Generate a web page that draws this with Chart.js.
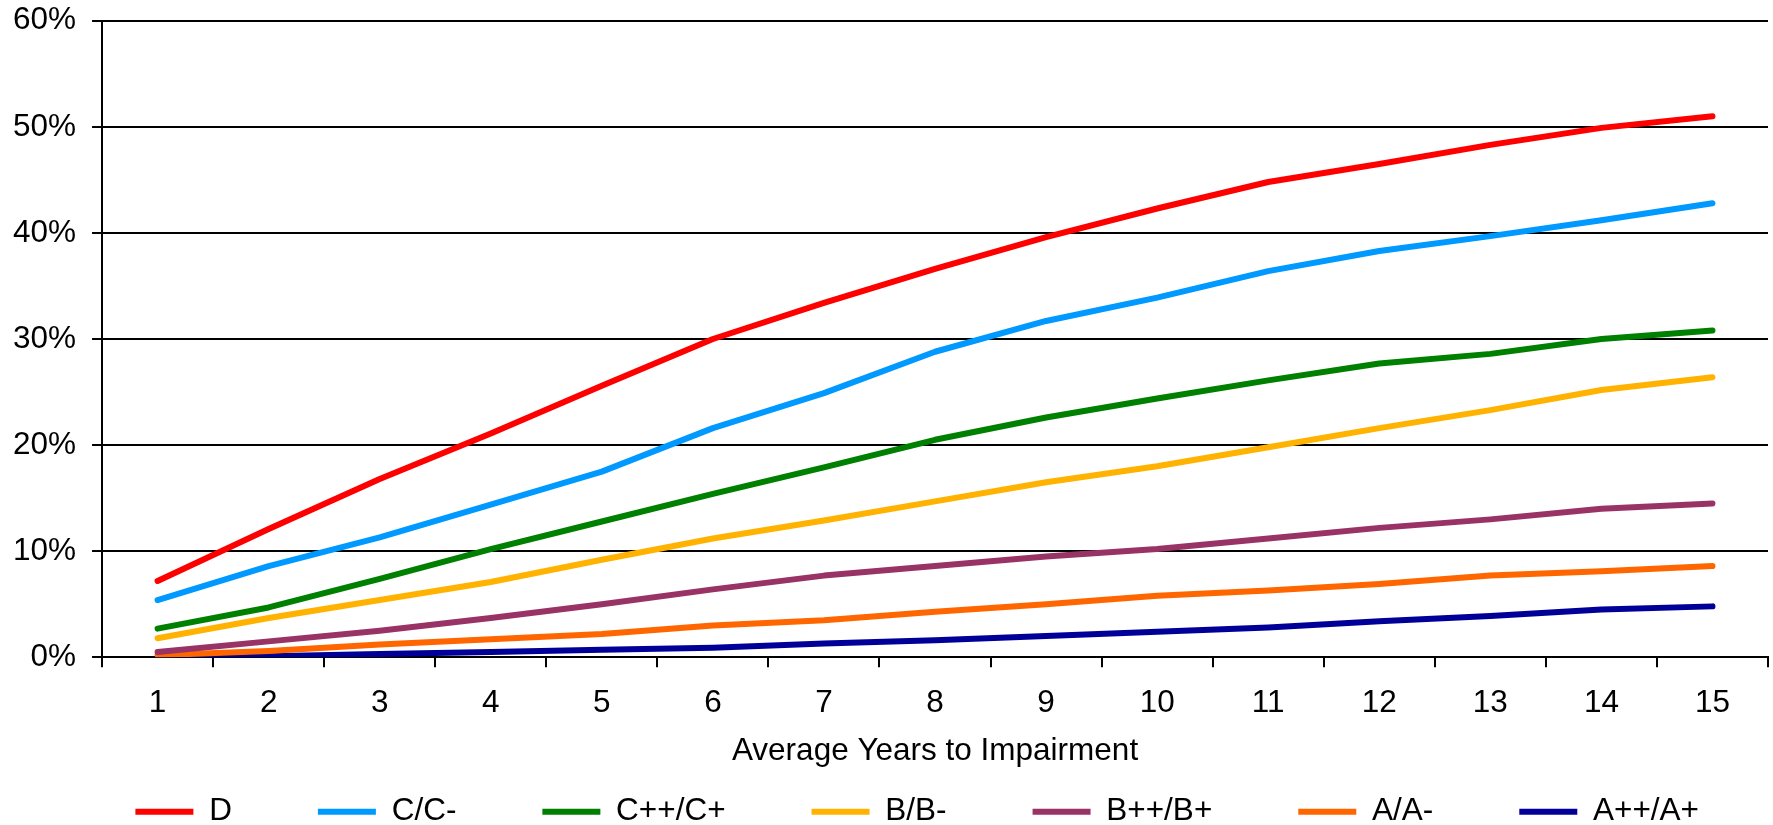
<!DOCTYPE html>
<html>
<head>
<meta charset="utf-8">
<script src="https://cdn.jsdelivr.net/npm/chart.js@4/dist/chart.umd.min.js"></script>
<style>
  html, body { margin: 0; padding: 0; background: #fff; }
  #chart { display: block; }
</style>
</head>
<body>
<canvas id="chart" width="1773" height="825"></canvas>
<script>
const years = ['1', '2', '3', '4', '5', '6', '7', '8', '9', '10', '11', '12', '13', '14', '15'];

const gradeD     = [7.2, 12.1, 16.8, 21.1, 25.6, 30.0, 33.4, 36.6, 39.6, 42.3, 44.8, 46.5, 48.3, 49.9, 51.0];
const gradeC     = [5.4, 8.6, 11.3, 14.4, 17.5, 21.6, 24.9, 28.8, 31.7, 33.9, 36.4, 38.3, 39.7, 41.2, 42.8];
const gradeCplus = [2.7, 4.7, 7.4, 10.2, 12.8, 15.4, 17.9, 20.5, 22.6, 24.4, 26.1, 27.7, 28.6, 30.0, 30.8];
const gradeB     = [1.8, 3.7, 5.4, 7.1, 9.2, 11.2, 12.9, 14.7, 16.5, 18.0, 19.8, 21.6, 23.3, 25.2, 26.4];
const gradeBplus = [0.5, 1.5, 2.5, 3.7, 5.0, 6.4, 7.7, 8.6, 9.5, 10.2, 11.2, 12.2, 13.0, 14.0, 14.5];
const gradeA     = [0.2, 0.6, 1.2, 1.7, 2.2, 3.0, 3.5, 4.3, 5.0, 5.8, 6.3, 6.9, 7.7, 8.1, 8.6];
const gradeAplus = [0.0, 0.1, 0.3, 0.5, 0.7, 0.9, 1.3, 1.6, 2.0, 2.4, 2.8, 3.4, 3.9, 4.5, 4.8];

const yTicks = [0, 10, 20, 30, 40, 50, 60];

function line(label, data, color) {
  return {
    label: label,
    data: data,
    borderColor: color,
    backgroundColor: color,
    borderWidth: 6,
    borderCapStyle: 'round',
    borderJoinStyle: 'round',
    pointRadius: 0,
    pointHoverRadius: 0,
    tension: 0,
    fill: false
  };
}

const family = "'Liberation Sans', Arial, sans-serif";
const font = { family: family, size: 31.5 };

// legend keeps wide gaps between items, but sits in a short strip at the bottom
const legendRow = {
  id: 'legendRow',
  afterLayout(chart) {
    const lg = chart.legend;
    lg.top = 810 - 86 - 14;
    lg.bottom = chart.height;
    lg.height = lg.bottom - lg.top;
    lg.left += 17;
    lg.right += 17;
  }
};

const config = {
  type: 'line',
  data: {
    labels: years,
    datasets: [
      line('D', gradeD, '#ff0000'),
      line('C/C-', gradeC, '#0099ff'),
      line('C++/C+', gradeCplus, '#008000'),
      line('B/B-', gradeB, '#ffb300'),
      line('B++/B+', gradeBplus, '#993366'),
      line('A/A-', gradeA, '#ff6600'),
      line('A++/A+', gradeAplus, '#000099')
    ]
  },
  options: {
    responsive: false,
    animation: false,
    layout: {
      padding: { top: 0, right: 5, left: -3, bottom: 0 }
    },
    plugins: {
      tooltip: { enabled: false },
      legend: {
        position: 'bottom',
        align: 'end',
        maxHeight: 64,
        labels: {
          font: font,
          color: '#000',
          usePointStyle: true,
          pointStyle: 'line',
          pointStyleWidth: 58,
          boxHeight: 31,
          padding: 86
        }
      }
    },
    scales: {
      x: {
        offset: true,
        grid: {
          offset: true,
          drawOnChartArea: false,
          drawTicks: true,
          tickLength: 10,
          color: '#000',
          lineWidth: 2
        },
        border: { color: '#000', width: 2 },
        ticks: { font: font, color: '#000', padding: 17, maxRotation: 0 },
        title: {
          display: true,
          text: 'Average Years to Impairment',
          font: { family: family, size: 31.5, lineHeight: 0.6 },
          color: '#000',
          padding: { top: 3, bottom: 0 }
        }
      },
      y: {
        min: 0,
        max: 60,
        afterBuildTicks: (axis) => { axis.ticks = yTicks.map(v => ({ value: v })); },
        grid: {
          color: '#000',
          lineWidth: 2,
          tickLength: 10
        },
        border: { color: '#000', width: 2 },
        ticks: {
          font: { family: family, size: 31.5, lineHeight: 0.3 },
          color: '#000',
          padding: 16,
          callback: (v) => v + '%'
        }
      }
    }
  },
  plugins: [legendRow]
};

const chart = new Chart(document.getElementById('chart'), config);
</script>
</body>
</html>
